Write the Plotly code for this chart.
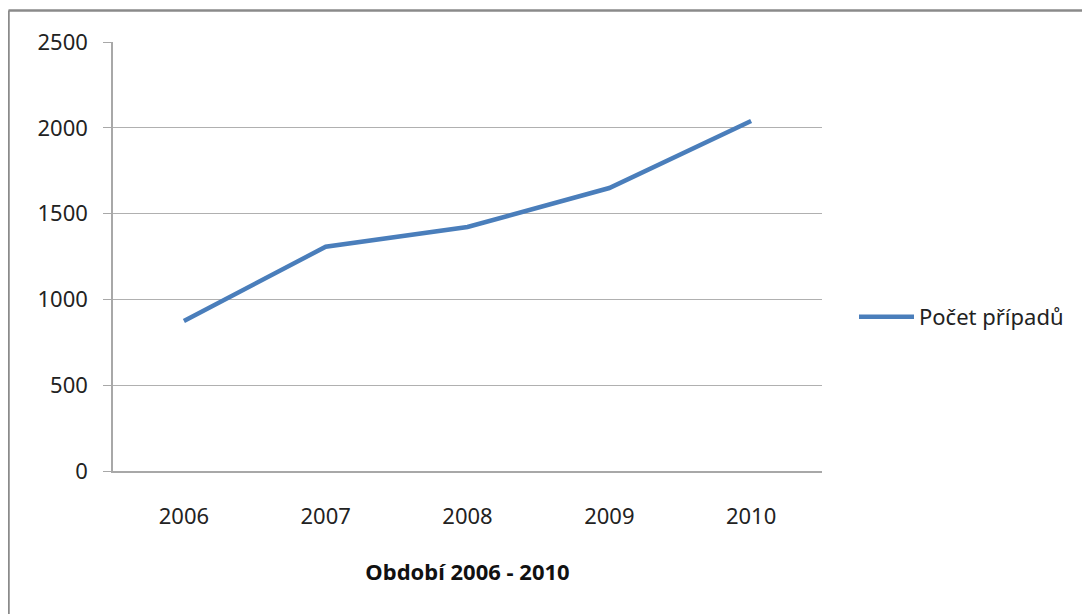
import plotly.graph_objects as go

years = ["2006", "2007", "2008", "2009", "2010"]
cases = [874, 1307, 1422, 1649, 2040]
series_name = "Počet případů"
x_title = "<b>Období 2006 - 2010</b>"

font = dict(family="Noto Sans, Open Sans, sans-serif", size=22, color="#222222")

# page body has an 8px margin, so the figure is drawn 8px smaller / shifted
W, H = 1082, 606
L, R, T, B = 105, 268, 34, 143
pw, ph = W - L - R, H - T - B

fig = go.Figure()
fig.add_trace(go.Scatter(x=years, y=cases, mode="lines", name=series_name,
                         line=dict(color="#4A7EBB", width=4.5)))

fig.update_layout(
    width=W, height=H,
    margin=dict(l=L, r=R, t=T, b=B),
    paper_bgcolor="white", plot_bgcolor="white",
    font=font,
    showlegend=True,
    legend=dict(x=(846 - L) / pw, y=0.359, xanchor="left", yanchor="middle",
                itemwidth=55,
                font=dict(size=22, color="#222222"), bgcolor="rgba(0,0,0,0)"),
)

fig.update_xaxes(type="category", range=[-0.5, 4.5], showgrid=False, zeroline=False,
                 showline=True, linecolor="#a8a8a8", linewidth=1.5, ticks="",
                 ticklabelstandoff=25,
                 title=dict(text=x_title, standoff=35, font=dict(size=22, color="#111111")))
fig.update_yaxes(range=[0, 2500], dtick=500, showgrid=True, gridcolor="#b0b0b0", gridwidth=1.3,
                 zeroline=False, showline=True, linecolor="#a8a8a8", linewidth=1.5,
                 ticks="outside", ticklen=8, tickcolor="#a8a8a8", tickwidth=1.3,
                 ticklabelstandoff=11)

# outer chart border (top and left edges visible)
bx = (0.5 - L) / pw
by = 1 + (T - 2.5) / ph
fig.add_shape(type="line", xref="paper", yref="paper", x0=bx, x1=bx, y0=-0.5, y1=by,
              line=dict(color="#8a8a8a", width=2.5))
fig.add_shape(type="line", xref="paper", yref="paper", x0=bx, x1=1.6, y0=by, y1=by,
              line=dict(color="#8a8a8a", width=2.5))

fig.write_html("out.html")
